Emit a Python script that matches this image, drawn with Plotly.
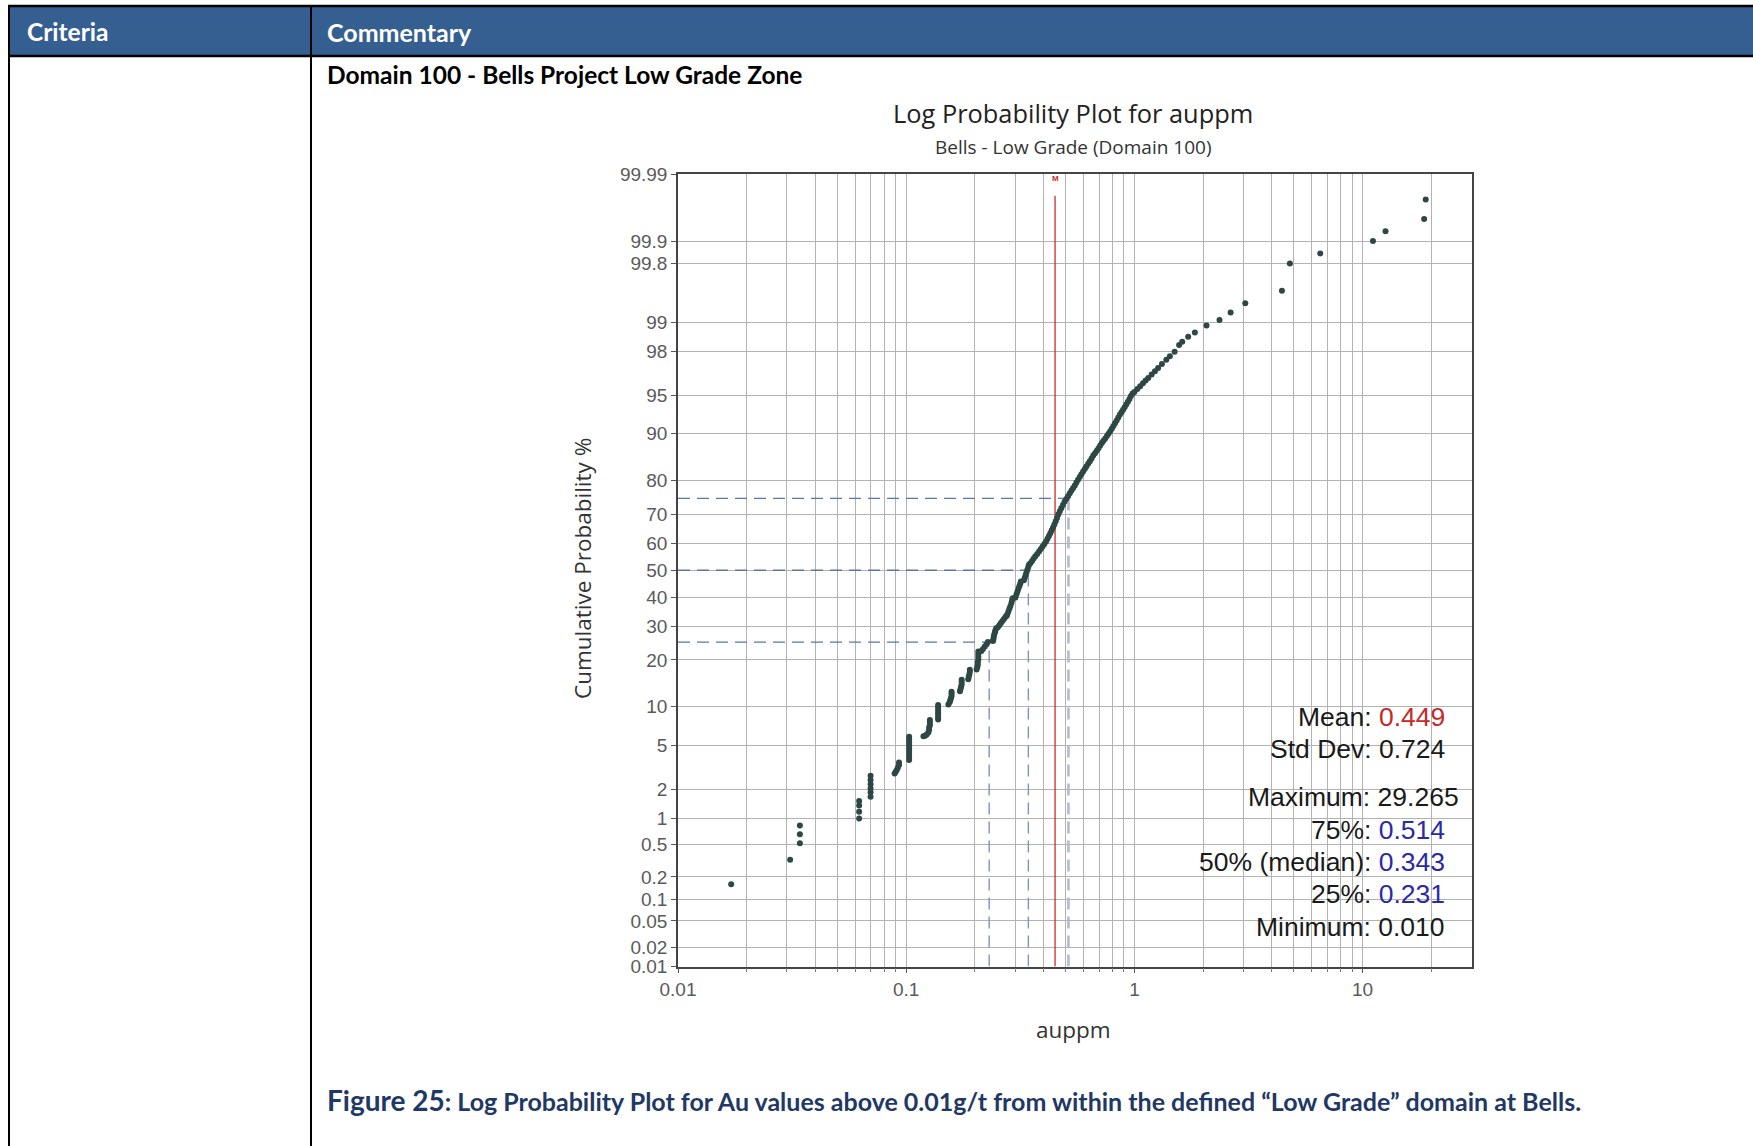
import math
from statistics import NormalDist
import plotly.graph_objects as go

# ---------------- data ----------------
au_ppm = [
    0.0171, 0.031, 0.0342, 0.0342, 0.0342,
    0.0622, 0.0622, 0.0622, 0.0622,
    0.0698, 0.0698, 0.0698, 0.0698, 0.0698, 0.0698,
    0.089, 0.090, 0.091, 0.092, 0.093, 0.093,
    0.103, 0.103, 0.103, 0.103, 0.103, 0.103, 0.103, 0.103, 0.103,
    0.119, 0.121, 0.123, 0.125, 0.126, 0.126, 0.127, 0.127, 0.127,
    0.138, 0.138, 0.138, 0.138, 0.138, 0.138, 0.138,
    0.153, 0.155, 0.156, 0.157, 0.158, 0.158, 0.158,
    0.172, 0.173, 0.174, 0.175, 0.175, 0.175,
    0.187, 0.188, 0.189, 0.190, 0.190,
    0.2035, 0.205, 0.206, 0.206, 0.207, 0.207, 0.207, 0.207,
    0.2135, 0.217, 0.221, 0.225, 0.228,
    0.240, 0.241, 0.242, 0.243, 0.245, 0.246, 0.248,
    0.252, 0.256, 0.260, 0.264, 0.268, 0.272, 0.275,
    0.277, 0.280, 0.283, 0.286, 0.289, 0.291, 0.293,
    0.301, 0.304, 0.307, 0.310, 0.313, 0.316, 0.318,
    0.328, 0.331, 0.334, 0.337, 0.340, 0.343, 0.345,
    0.350, 0.356, 0.362, 0.368, 0.375, 0.382, 0.389, 0.396, 0.403, 0.410,
    0.416, 0.422, 0.428, 0.434, 0.440, 0.446, 0.452, 0.458, 0.464, 0.471,
    0.478, 0.486, 0.494, 0.503, 0.512, 0.521, 0.530, 0.539, 0.548, 0.557, 0.566,
    0.576, 0.586, 0.596, 0.606, 0.616, 0.627, 0.638, 0.649, 0.660, 0.672,
    0.684, 0.696, 0.708, 0.720, 0.732, 0.745, 0.758, 0.770,
    0.783, 0.796, 0.809, 0.822, 0.836, 0.850, 0.864, 0.878, 0.892, 0.906,
    0.921, 0.936, 0.951, 0.966, 0.982,
    1.00, 1.03, 1.06, 1.09, 1.12, 1.15, 1.19, 1.23, 1.27, 1.32, 1.38, 1.43, 1.50,
    1.57, 1.62, 1.72, 1.84, 2.07, 2.36, 2.64, 3.06, 4.43, 4.80, 6.52, 11.1, 12.6, 18.6, 18.9,
]
cum_prob = [
    0.16, 0.33, 0.52, 0.66, 0.83,
    0.99, 1.17, 1.36, 1.52,
    1.68, 1.86, 2.03, 2.23, 2.45, 2.69,
    2.82, 2.93, 3.05, 3.2, 3.38, 3.56,
    3.75, 3.98, 4.22, 4.48, 4.75, 5.03, 5.32, 5.62, 5.92,
    5.95, 6.02, 6.15, 6.4, 6.7, 7.0, 7.3, 7.65, 8.0,
    8.05, 8.4, 8.75, 9.1, 9.5, 9.9, 10.3,
    10.4, 10.75, 11.1, 11.5, 11.9, 12.3, 12.7,
    12.8, 13.25, 13.7, 14.2, 14.7, 15.2,
    15.3, 15.85, 16.4, 16.95, 17.5,
    17.6, 18.2, 18.8, 19.45, 20.1, 20.8, 21.5, 22.3,
    22.4, 23.0, 23.7, 24.4, 25.0,
    25.3, 25.9, 26.6, 27.3, 28.0, 28.7, 29.3,
    29.6, 30.3, 31.0, 31.7, 32.4, 33.0, 33.4,
    33.8, 34.8, 35.8, 36.8, 37.9, 38.9, 39.6,
    39.9, 41.0, 42.0, 43.0, 44.0, 45.0, 45.8,
    46.3, 47.3, 48.3, 49.3, 50.3, 51.3, 52.1,
    52.6, 53.5, 54.4, 55.2, 56.1, 57.0, 57.9, 58.8, 59.7, 60.6,
    61.6, 62.6, 63.6, 64.6, 65.6, 66.6, 67.7, 68.8, 70.0, 71.0,
    72.0, 73.0, 74.0, 74.8, 75.6, 76.5, 77.3, 78.0, 78.7, 79.5, 80.2,
    80.9, 81.6, 82.3, 82.9, 83.5, 84.1, 84.7, 85.3, 85.9, 86.4,
    86.9, 87.4, 87.9, 88.4, 88.8, 89.2, 89.6, 90.0,
    90.4, 90.8, 91.2, 91.6, 92.0, 92.4, 92.8, 93.1, 93.4, 93.7,
    94.0, 94.3, 94.6, 94.9, 95.15,
    95.28, 95.55, 95.8, 96.03, 96.25, 96.45, 96.69, 96.91, 97.12, 97.35, 97.59, 97.77, 97.99,
    98.27, 98.4, 98.58, 98.72, 98.92, 99.06, 99.22, 99.39, 99.565, 99.80, 99.853, 99.90, 99.927, 99.951, 99.975,
]

prob_ticks = [0.01, 0.02, 0.05, 0.1, 0.2, 0.5, 1, 2, 5, 10, 20, 30, 40, 50, 60, 70, 80, 90, 95, 98, 99, 99.8, 99.9, 99.99]
prob_tick_labels = ["0.01", "0.02", "0.05", "0.1", "0.2", "0.5", "1", "2", "5", "10", "20", "30", "40", "50",
                    "60", "70", "80", "90", "95", "98", "99", "99.8", "99.9", "99.99"]
x_major_ticks = [0.01, 0.1, 1, 10]
x_major_labels = ["0.01", "0.1", "1", "10"]
x_minor_ticks = [0.02, 0.03, 0.04, 0.05, 0.06, 0.07, 0.08, 0.09,
                 0.2, 0.3, 0.4, 0.5, 0.6, 0.7, 0.8, 0.9,
                 2, 3, 4, 5, 6, 7, 8, 9, 20]
x_range = [0.01, 30]

mean_value = 0.449
std_dev = 0.724
maximum_value = 29.265
minimum_value = 0.010
quartile_pcts = [75, 50, 25]
quartile_values = [0.514, 0.343, 0.231]
quartile_labels = ["75%", "50% (median)", "25%"]

# ---------------- helpers ----------------
W, H = 1753, 1146
nd = NormalDist()


def zq(p):
    return nd.inv_cdf(p / 100.0)


def px(x):
    return x / W


def py(y):
    return 1 - y / H


z_lo, z_hi = zq(prob_ticks[0]), zq(prob_ticks[-1])

fig = go.Figure()

# quartile guide lines
for q, pct in zip(quartile_values, quartile_pcts):
    fig.add_trace(go.Scatter(x=[x_range[0], q], y=[zq(pct), zq(pct)], mode="lines",
                             line=dict(color="#5b76ad", width=1.4, dash="12px,7px"),
                             hoverinfo="skip", showlegend=False))
    fig.add_trace(go.Scatter(x=[q, q], y=[z_lo, zq(pct)], mode="lines",
                             line=dict(color="#7f93bd" if pct != 75 else "#b3bad0",
                                       width=1.4 if pct != 75 else 2.6, dash="12px,7px"),
                             hoverinfo="skip", showlegend=False))

# mean line
fig.add_trace(go.Scatter(x=[mean_value, mean_value], y=[z_lo, zq(99.978)], mode="lines",
                         line=dict(color="#cc2b2b", width=1.3), hoverinfo="skip", showlegend=False))

# data points
fig.add_trace(go.Scatter(x=au_ppm, y=[zq(p) for p in cum_prob], mode="markers",
                         marker=dict(color="#2d4844", size=6, line=dict(width=0)),
                         showlegend=False))

grid_col = "#b2b2b2"
tick_font = dict(family="Liberation Sans, Arial", size=19, color="#5a5a5a")
fig.update_xaxes(type="log", range=[math.log10(x_range[0]), math.log10(x_range[1])],
                 domain=[px(678), px(1471.5)], automargin=False,
                 tickvals=x_major_ticks, ticktext=x_major_labels,
                 ticks="outside", ticklen=5, tickcolor="#555", tickfont=tick_font,
                 showgrid=True, gridcolor=grid_col, gridwidth=1,
                 minor=dict(tickvals=x_minor_ticks, showgrid=True, gridcolor=grid_col, gridwidth=1,
                            ticks="outside", ticklen=4, tickcolor="#777"),
                 showline=True, linecolor="#444", linewidth=1.5, mirror=True, zeroline=False)
fig.update_yaxes(range=[z_lo, z_hi], domain=[py(966.5), py(174)], automargin=False,
                 tickvals=[zq(p) for p in prob_ticks], ticktext=prob_tick_labels,
                 ticks="outside", ticklen=5, tickcolor="#555", tickfont=tick_font,
                 showgrid=True, gridcolor=grid_col, gridwidth=1,
                 showline=True, linecolor="#444", linewidth=1.5, mirror=True, zeroline=False)

shapes = []
header_blue = "#365f91"
shapes.append(dict(type="rect", xref="paper", yref="paper", x0=px(9), x1=1.0, y0=py(56), y1=py(6),
                   fillcolor=header_blue, line=dict(width=0), layer="below"))
shapes.append(dict(type="line", xref="paper", yref="paper", x0=px(8), x1=1.0, y0=py(6), y1=py(6),
                   line=dict(color="#000", width=2.5)))
shapes.append(dict(type="line", xref="paper", yref="paper", x0=px(8), x1=1.0, y0=py(56), y1=py(56),
                   line=dict(color="#000", width=2.5)))
for xv in (9, 311):
    shapes.append(dict(type="line", xref="paper", yref="paper", x0=px(xv), x1=px(xv), y0=py(5), y1=0.0,
                       line=dict(color="#000", width=2)))

doc_font = "Lato, Noto Sans, sans-serif"
ann = []
ann.append(dict(x=px(25), y=py(32), xref="paper", yref="paper", xanchor="left", yanchor="middle",
                text="<b>Criteria</b>", showarrow=False, font=dict(family=doc_font, size=24.5, color="white")))
ann.append(dict(x=px(325), y=py(32), xref="paper", yref="paper", xanchor="left", yanchor="middle",
                text="<b>Commentary</b>", showarrow=False, font=dict(family=doc_font, size=25, color="white")))
ann.append(dict(x=px(325), y=py(74), xref="paper", yref="paper", xanchor="left", yanchor="middle",
                text="<b>Domain 100 - Bells Project Low Grade Zone</b>", showarrow=False,
                font=dict(family=doc_font, size=24.5, color="black")))
ann.append(dict(x=px(325), y=py(1100), xref="paper", yref="paper", xanchor="left", yanchor="middle",
                text="<b><span style='font-size:28px'>Figure 25</span>: Log Probability Plot for Au values above 0.01g/t from within the defined \u201cLow Grade\u201d domain at Bells.</b>",
                showarrow=False, font=dict(family=doc_font, size=25, color="#1f3864")))

chart_font = "Open Sans, Noto Sans, sans-serif"
ann.append(dict(x=px(1073), y=py(113), xref="paper", yref="paper", xanchor="center", yanchor="middle",
                text="Log Probability Plot for auppm", showarrow=False,
                font=dict(family=chart_font, size=25.4, color="#222")))
ann.append(dict(x=px(1073), y=py(147), xref="paper", yref="paper", xanchor="center", yanchor="middle",
                text="Bells - Low Grade (Domain 100)", showarrow=False,
                font=dict(family=chart_font, size=19, color="#333")))
ann.append(dict(x=px(582), y=py(569), xref="paper", yref="paper", xanchor="center", yanchor="middle",
                text="Cumulative Probability %", textangle=-90, showarrow=False,
                font=dict(family=chart_font, size=22.5, color="#333")))
ann.append(dict(x=px(1073), y=py(1029), xref="paper", yref="paper", xanchor="center", yanchor="middle",
                text="auppm", showarrow=False, font=dict(family=chart_font, size=22.5, color="#333")))

# mean marker label
ann.append(dict(x=math.log10(mean_value), y=py(179), xref="x", yref="paper", xanchor="center", yanchor="middle",
                text="<b>M</b>", showarrow=False, font=dict(family="Liberation Sans", size=8, color="#cc2b2b")))

# statistics block
stat_font = dict(family="Liberation Sans, Arial", size=26.5, color="#1a1a1a")
red = "#c62828"
blue = "#2a2aa5"
rows = [
    (717, 1447, "Mean: <span style='color:%s'>%.3f</span>" % (red, mean_value)),
    (749, 1447, "Std Dev: %.3f" % std_dev),
    (797, 1461, "Maximum: %.3f" % maximum_value),
]
for i, (lab, val) in enumerate(zip(quartile_labels, quartile_values)):
    rows.append((829.6 + 32.4 * i, 1447, "%s: <span style='color:%s'>%.3f</span>" % (lab, blue, val)))
rows.append((927, 1447, "Minimum: %.3f" % minimum_value))
for yv, xr, t in rows:
    ann.append(dict(x=px(xr), y=py(yv), xref="paper", yref="paper", xanchor="right", yanchor="middle",
                    text=t, showarrow=False, font=stat_font))

fig.update_layout(width=W, height=H, margin=dict(l=0, r=0, t=0, b=0, pad=0, autoexpand=False),
                  paper_bgcolor="white", plot_bgcolor="white",
                  shapes=shapes, annotations=ann, showlegend=False)

fig.write_html("out.html", config={"displayModeBar": False},
               post_script="document.body.style.margin='0px';document.body.style.overflow='hidden';")
